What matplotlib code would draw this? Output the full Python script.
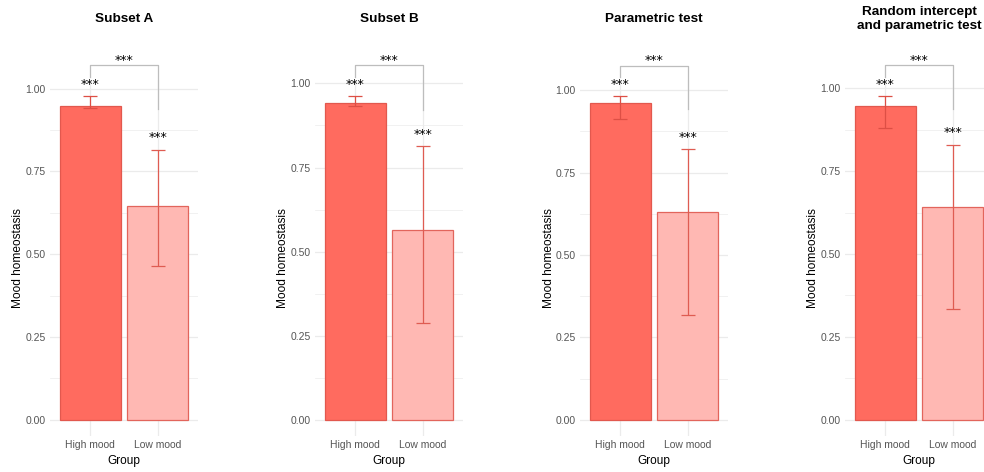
import numpy as np
import matplotlib
matplotlib.use("Agg")
import matplotlib.pyplot as plt
from matplotlib.ticker import MultipleLocator

plt.rcParams["font.family"] = ["Liberation Sans", "DejaVu Sans"]

# data
groups = ["High mood", "Low mood"]
titles = ["Subset A", "Subset B", "Parametric test", "Random intercept\nand parametric test"]

high_mean = [0.947, 0.943, 0.960, 0.946]
high_lower = [0.940, 0.934, 0.914, 0.881]
high_upper = [0.977, 0.962, 0.982, 0.976]

low_mean = [0.645, 0.565, 0.632, 0.643]
low_lower = [0.463, 0.287, 0.317, 0.334]
low_upper = [0.816, 0.813, 0.821, 0.829]

high_sig = ["***", "***", "***", "***"]
low_sig = ["***", "***", "***", "***"]
pair_sig = ["***", "***", "***", "***"]

FILL = ["#FF6B5F", "#FFB8B3"]
EDGE = ["#E2584E", "#E2655C"]
ERR = ["#DD4F45", "#DF5C52"]
GRID = "#EBEBEB"
BRACKET = "#BDBDBD"
TXT = "#555555"

W, H = 984, 472
fig = plt.figure(figsize=(W / 100, H / 100), dpi=100)

panel_left = [50, 315, 580, 845]
panel_w = 148
panel_top, panel_bottom = 80, 436

x = np.arange(1, len(groups) + 1)
star_kw = dict(ha="center", va="center", fontsize=9, family="DejaVu Sans", clip_on=False)

for i, title in enumerate(titles):
    ax = fig.add_axes([panel_left[i] / W, 1 - panel_bottom / H,
                       panel_w / W, (panel_bottom - panel_top) / H])

    means = [high_mean[i], low_mean[i]]
    lower = [high_lower[i], low_lower[i]]
    upper = [high_upper[i], low_upper[i]]

    top = max(upper)
    ax.set_ylim(-0.05 * top, 1.05 * top)
    ax.set_xlim(0.4, 2.6)

    # grid like theme_minimal
    ax.yaxis.set_major_locator(MultipleLocator(0.25))
    ax.yaxis.set_minor_locator(MultipleLocator(0.125))
    ax.set_xticks(x)
    ax.set_xticklabels(groups)
    ax.grid(True, which="major", color=GRID, lw=0.9)
    ax.grid(True, which="minor", axis="y", color=GRID, lw=0.5)
    ax.set_axisbelow(True)
    for s in ax.spines.values():
        s.set_visible(False)
    ax.tick_params(which="both", length=0)
    ax.tick_params(axis="y", pad=3, labelsize=7.5, labelcolor=TXT)
    ax.tick_params(axis="x", pad=3, labelsize=7.5, labelcolor=TXT)
    ax.yaxis.set_major_formatter(plt.FuncFormatter(lambda v, p: f"{v:.2f}"))

    ax.bar(x, means, width=0.9, color=FILL, edgecolor=EDGE, linewidth=0.9, zorder=2)
    for j in range(len(groups)):
        ax.errorbar(x[j], means[j],
                    yerr=[[means[j] - lower[j]], [upper[j] - means[j]]],
                    fmt="none", ecolor=ERR[j], elinewidth=0.9, capsize=5,
                    capthick=0.9, zorder=3)

    # stars over each bar
    ax.text(x[0], high_upper[i] + 0.036, high_sig[i], **star_kw)
    ax.text(x[1], low_upper[i] + 0.036, low_sig[i], **star_kw)

    # comparison bracket
    by = top + 0.093
    ax.plot([x[0], x[0], x[1], x[1]], [by - 0.035, by, by, by - 0.133],
            color=BRACKET, lw=0.9, clip_on=False, zorder=1)
    ax.text(x.mean(), by + 0.014, pair_sig[i], **star_kw)

    ax.set_xlabel("Group", fontsize=8.6)
    ax.xaxis.label.set_verticalalignment("center")
    ax.xaxis.set_label_coords(0.5, -0.07)
    ax.set_ylabel("Mood homeostasis", fontsize=8.6)
    ax.yaxis.label.set_verticalalignment("center")
    ax.yaxis.set_label_coords(-31.5 / panel_w, 0.5)

    fig.text((panel_left[i] + panel_w / 2) / W, 1 - 19 / H, title,
             ha="center", va="center", fontsize=9.7, fontweight="bold",
             linespacing=1.3)

fig.savefig("out.png", dpi=100)
